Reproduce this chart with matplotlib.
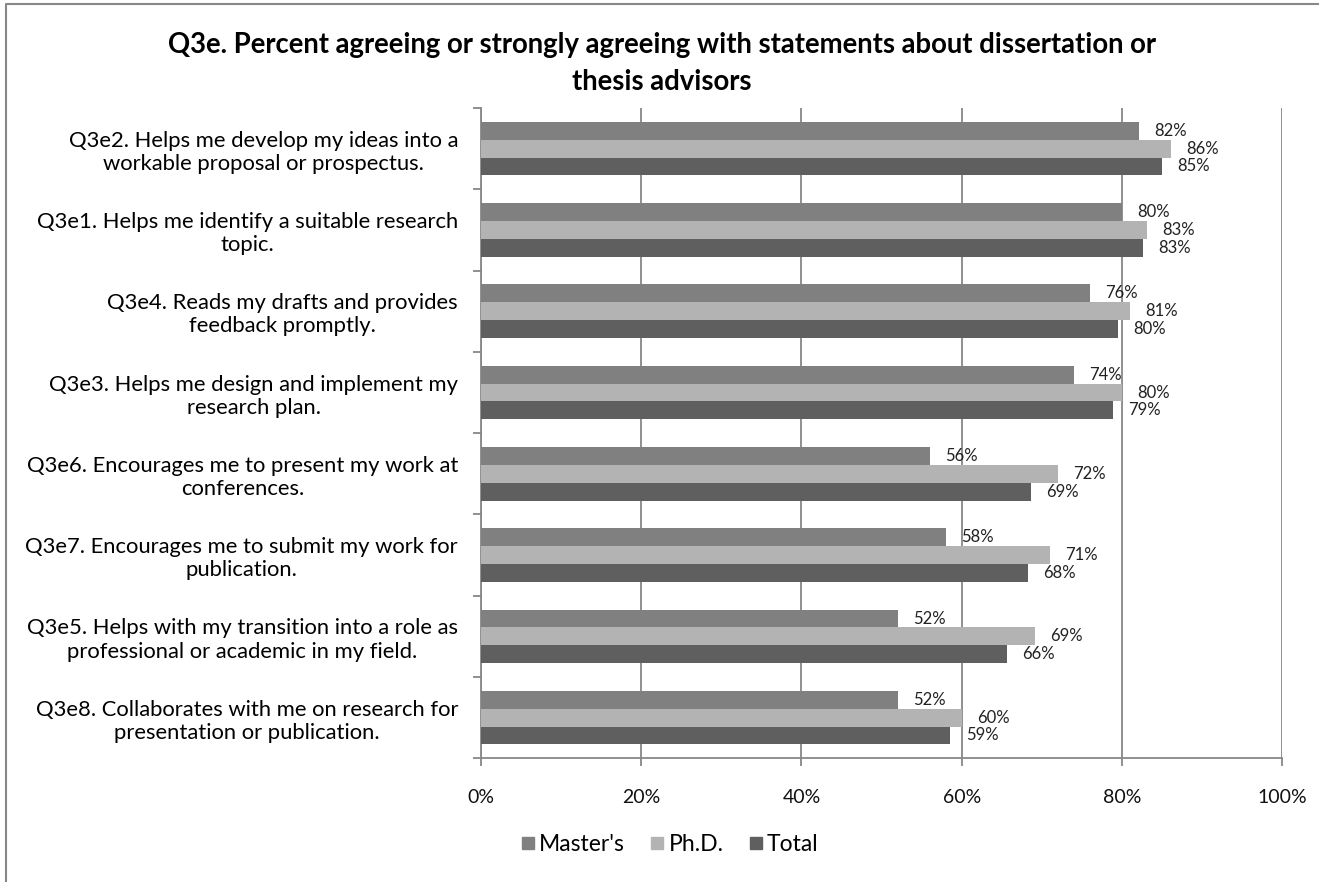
import numpy as np
import matplotlib.pyplot as plt
from matplotlib.lines import Line2D

plt.rcParams['font.family'] = ['Lato', 'DejaVu Sans']

# survey items, top to bottom
categories = [
    "Q3e2. Helps me develop my ideas into a\nworkable proposal or prospectus.",
    "Q3e1. Helps me identify a suitable research\ntopic.",
    "Q3e4. Reads my drafts and provides\nfeedback promptly.",
    "Q3e3. Helps me design and implement my\nresearch plan.",
    "Q3e6. Encourages me to present my work at\nconferences.",
    "Q3e7. Encourages me to submit my work for\npublication.",
    "Q3e5. Helps with my transition into a role as\nprofessional or academic in my field.",
    "Q3e8. Collaborates with me on research for\npresentation or publication.",
]

masters = [82.1, 80.0, 76.0, 74.0, 56.0, 58.0, 52.0, 52.0]
phd = [86.1, 83.1, 81.0, 80.0, 72.0, 71.0, 69.1, 60.0]
total = [85.0, 82.7, 79.5, 78.9, 68.6, 68.3, 65.7, 58.6]

series = [("Master's", masters, "#808080"),
          ("Ph.D.", phd, "#b3b3b3"),
          ("Total", total, "#5f5f5f")]

grid_col = "#878787"

fig = plt.figure(figsize=(13.19, 8.82), dpi=100)
ax = fig.add_axes([0.3647, 0.1402, 0.972 - 0.3647, 0.8776 - 0.1402])

y = np.arange(len(categories))
h = 0.219

for k, (name, vals, col) in enumerate(series):
    pos = y + (k - 1) * h
    ax.barh(pos, vals, height=h, color=col, label=name, zorder=3)
    for p, v in zip(pos, vals):
        ax.text(v + 1.9, p, f"{v:.0f}%", va="center", ha="left",
                fontsize=12, color="#222222", zorder=4)

ax.set_xlim(0, 100)
ax.set_ylim(len(categories) - 0.5, -0.5)

ax.set_xticks(np.arange(0, 101, 20))
ax.set_xticklabels([f"{t}%" for t in range(0, 101, 20)], fontsize=14)
ax.xaxis.grid(True, color=grid_col, linewidth=1.3, zorder=0)

# category ticks sit between groups, labels at group centres
ax.set_yticks(np.arange(-0.5, len(categories), 1.0))
ax.set_yticklabels([])
ax.set_yticks(y, minor=True)
ax.set_yticklabels(categories, minor=True, fontsize=15.8, ha="right",
                   multialignment="center", linespacing=1.2)
ax.tick_params(axis="y", which="minor", length=0, pad=16.5)
ax.tick_params(axis="y", which="major", length=6, width=1.3, color=grid_col)
ax.tick_params(axis="x", length=6, width=1.3, color=grid_col, pad=16,
               labelcolor="#111111")

for side in ["top", "right"]:
    ax.spines[side].set_visible(False)
for side in ["left", "bottom"]:
    ax.spines[side].set_color(grid_col)
    ax.spines[side].set_linewidth(1.3)

fig.text(0.502, 0.928,
         "Q3e. Percent agreeing or strongly agreeing with statements about dissertation or\nthesis advisors",
         ha="center", va="center", fontsize=19.8, fontweight="bold",
         linespacing=1.5)

handles = [Line2D([], [], marker="s", linestyle="none", markersize=9,
                  markerfacecolor=c, markeredgecolor=c) for _, _, c in series]
fig.legend(handles, [s[0] for s in series], loc="center",
           bbox_to_anchor=(0.506, 0.042), ncol=3, frameon=False,
           fontsize=16.5, handletextpad=0.0, columnspacing=0.9,
           handlelength=1.0)

# outer chart border (top and left edges)
fig.add_artist(Line2D([5.5 / 1319, 5.5 / 1319, 1.0], [0.0, 1 - 4 / 882, 1 - 4 / 882],
                      transform=fig.transFigure, color="#888888", linewidth=1.5))

fig.savefig("out.png", dpi=100)
